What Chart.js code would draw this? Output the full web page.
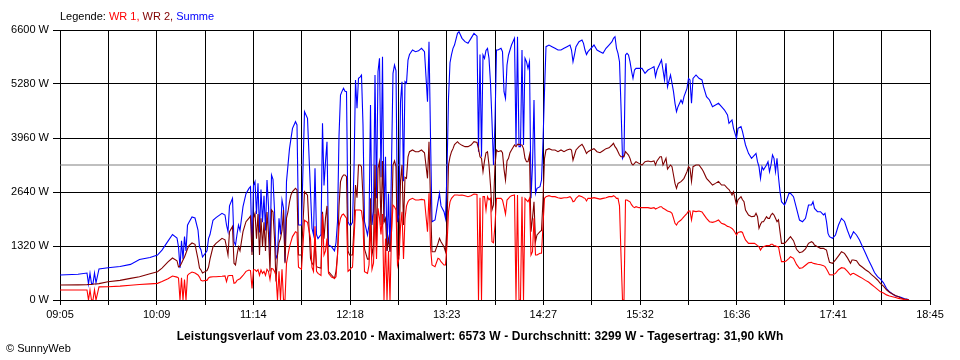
<!DOCTYPE html>
<html><head><meta charset="utf-8">
<script src="https://cdn.jsdelivr.net/npm/chart.js@4.4.0/dist/chart.umd.min.js"></script>
<style>
html,body{margin:0;padding:0;background:#fff;}
#wrap{position:relative;width:960px;height:360px;font-family:"Liberation Sans",Arial,sans-serif;font-size:11px;color:#000;}
canvas{position:absolute;left:0;top:0;}
#legend{position:absolute;left:60px;top:10px;white-space:nowrap;}
#title{position:absolute;left:0;width:960px;top:329px;text-align:center;font-weight:bold;font-size:12px;letter-spacing:0.1px;white-space:nowrap;}
#copy{position:absolute;left:6px;top:342px;white-space:nowrap;}
</style></head>
<body><div id="wrap"><canvas id="c" width="960" height="360"></canvas>
<div id="legend">Legende: <span style="color:#ff0000">WR 1,</span> <span style="color:#800000">WR 2,</span> <span style="color:#0000ff">Summe</span></div>
<div id="title">Leistungsverlauf vom 23.03.2010 - Maximalwert: 6573 W - Durchschnitt: 3299 W - Tagesertrag: 31,90 kWh</div>
<div id="copy">© SunnyWeb</div>
</div>
<script>
// minutes after 09:05
const minutes = [
0,12,18,19,20,21,22,23,24,26,32,40,47,53,60,65,68,72,75,78,79,80,81,82,83,84,85,86,88,90,92,93,94,95,97,
98,99,100,102,104,108,110,111,112,113,115,116,117,118,119,120,122,124,126,127,128,129,130,131,132,133,134,135,136,137,138,139,140,141,142,143,144,145,146,147,148,149,150,151,152,153,154,155,157,158,159,161,163,165,167,168,169,170,171,172,174,175,176,177,178,179,181,183,184,185,186,187,188,189,190,191,192,193,194,
195,196,197,198,199,200,201,202,203,205,206,207,208,209,210,211,212,213,214,215,216,217,218,219,220,221,222,223,224,225,226,227,228,229,230,231,232,233,235,237,239,241,243,245,246,247,248,250,252,253,254,256,257,258,259,260,261,262,263,265,266,268,270,272,274,276,278,279,280,281,282,283,284,285,286,287,288,289,290,291,
292,294,295,296,297,298,299,300,301,303,304,305,306,307,308,309,310,311,312,313,314,315,316,317,318,320,321,322,323,324,326,328,330,332,334,336,338,340,341,342,343,344,346,348,349,350,351,352,354,356,358,360,362,364,366,368,369,370,371,372,373,374,375,376,377,378,379,380,381,382,383,384,386,388,
390,392,394,396,397,398,400,401,402,403,404,405,407,408,409,410,411,412,414,415,416,418,419,420,421,422,424,426,428,429,431,433,435,437,439,441,443,445,446,448,449,451,452,454,455,456,457,459,461,463,464,465,466,467,468,469,471,472,473,474,475,476,477,478,479,480,481,
483,484,486,487,489,491,493,495,497,499,501,502,503,505,507,509,510,511,512,513,515,517,519,521,523,525,527,528,529,531,533,535,537,539,541,543,545,547,549,551,553,555,557,559,561,563,565,566
];
// WR 1 (W)
const wr1 = [
244,244,244,0,244,0,0,250,0,320,325,340,360,380,395,407,450,520,587,560,538,0,540,0,500,0,600,640,684,660,611,560,480,464,480,
480,540,560,570,570,580,590,450,590,600,600,410,420,480,500,520,600,700,733,720,285,740,740,700,740,600,735,650,700,600,750,700,500,770,760,700,600,0,700,0,750,0,0,900,1100,1300,1426,1550,1670,1650,800,750,1950,1900,1500,800,700,1800,700,650,600,2100,1100,1200,1500,650,560,530,570,1100,1800,2000,2078,2100,2050,2000,700,733,780,
800,1500,2200,2200,2200,2200,2180,1900,692,652,855,1833,750,900,2100,1000,2240,2000,1600,2100,0,1500,0,1200,0,1670,2322,2280,2200,855,1019,1800,2158,1000,1996,2300,2403,2450,2485,2444,2444,2460,2444,1670,2607,1300,855,815,1019,1000,937,855,855,1344,2158,2400,2485,2526,2567,2567,2560,2567,2550,2526,2550,2590,2580,0,2500,0,2526,2526,2200,2526,2450,2485,1426,1400,1833,2485,
2485,2485,2444,2281,2100,2444,2485,2526,2550,2567,0,2567,0,0,2526,0,2485,2444,2403,2485,1100,1181,2000,1100,1100,1141,1141,1833,2485,2526,2550,2526,2526,2500,2485,2501,2501,2526,2485,2400,2420,2485,2550,2526,2501,2485,2420,2485,2485,2501,2485,2467,2485,2501,2526,2526,2550,2526,2485,2485,2300,1100,0,0,2444,2444,2420,2400,2330,2281,2257,2281,2257,2257,
2257,2257,2240,2257,2224,2240,2280,2281,2240,2224,2200,2175,2150,2118,2000,1874,1833,1900,1955,1996,2040,2118,2175,2175,1955,2175,2160,2175,2150,2100,1996,1914,1898,1920,1955,1874,1849,1800,1793,1750,1711,1589,1650,1670,1650,1550,1467,1385,1385,1385,1361,1330,1304,1222,1280,1304,1330,1328,1328,1361,1361,1330,1328,1304,1304,1100,937,
937,950,1019,1059,1019,870,774,790,850,910,920,896,890,872,860,840,815,760,692,620,611,650,740,790,774,700,611,640,652,611,570,529,480,440,380,320,261,200,170,125,100,81,60,40,25,10,0,0
];
// WR 2 (W)
const wr2 = [
367,370,375,380,380,380,385,390,390,400,448,480,529,570,640,692,780,930,1027,960,807,830,900,978,1050,1150,1250,1330,1393,1360,1000,780,733,660,700,
720,800,1000,1300,1385,1507,1470,1300,1100,1670,1800,900,855,1100,1300,1200,1670,1914,2000,2050,1100,2000,2118,1500,2100,1100,2000,1300,1900,1200,2150,1600,700,2200,2150,1500,450,1100,1400,1500,1700,2200,900,2000,2158,2400,2567,2650,2729,2689,1100,1100,2650,2560,1019,900,855,1400,815,800,774,2158,1500,2000,2300,692,611,529,700,1100,2300,2892,3000,3056,3056,3015,1200,1100,1100,
1100,1800,2811,2500,3300,3300,3259,2500,1250,1000,1000,2485,1100,1300,3300,1300,3218,3381,1833,3400,1900,1996,1200,1500,1181,1670,3300,3400,3259,1019,1100,2900,3300,1833,3000,2974,3500,3625,3667,3625,3625,3667,3600,2974,3870,2400,1181,1181,1385,1507,1426,1300,1181,1833,3300,3500,3625,3700,3800,3870,3829,3780,3748,3748,3789,3870,3850,3700,3500,3463,3137,3400,3600,3625,3300,2800,2200,2322,3300,3667,
3625,3650,3600,3200,2933,3400,3463,3600,3667,3789,3748,3805,3805,3789,3789,3700,3463,3381,3381,3544,1670,2000,2400,1426,1589,1670,1700,2444,3463,3667,3700,3667,3667,3625,3667,3625,3667,3690,3667,3420,3544,3667,3748,3805,3748,3667,3581,3625,3667,3700,3625,3600,3650,3700,3720,3789,3829,3748,3700,3625,3544,3503,3503,3503,3625,3585,3544,3463,3340,3300,3340,3381,3340,3300,
3381,3397,3381,3400,3300,3400,3503,3503,3300,3381,3463,3200,3300,3259,3056,2850,2729,2850,2892,2933,2974,3137,3259,3220,2900,3259,3300,3300,3200,3137,2974,2892,2811,2851,2900,2811,2811,2729,2700,2567,2648,2322,2450,2526,2450,2403,2200,2078,2037,2050,2118,2037,1752,1850,1914,1914,2037,1996,1996,2078,2118,2078,1996,1914,1960,1670,1385,
1385,1420,1507,1548,1450,1240,1157,1181,1250,1385,1426,1400,1344,1304,1263,1263,1240,1222,1059,920,896,980,1080,1181,1141,1030,896,978,978,960,855,800,740,692,620,560,489,400,340,250,190,147,110,80,45,25,10,0
];
// Summe (W)
const summe = [
611,630,660,390,650,400,400,660,420,760,790,820,870,990,1040,1100,1220,1440,1600,1516,1300,780,1450,1000,1550,1200,1830,1900,2029,2004,1711,1300,1222,1051,1149,
1200,1500,1600,1950,2013,2118,2078,1833,1670,2300,2485,1426,1344,1600,1833,1700,2281,2600,2729,2770,1181,2800,2892,2100,2851,1650,2700,1900,2550,1700,2933,2300,1100,3056,2950,2200,1019,1100,2000,1600,2444,2250,937,2900,3300,3700,3952,4196,4359,4278,1833,1833,4603,4441,2648,1752,1600,3218,1600,1500,1600,4319,2800,3381,3870,1344,1304,1200,1400,1914,4000,5011,5100,5174,5100,5093,1914,1833,1833,
1900,3200,5378,4685,5418,5450,5500,4278,1914,1589,1833,4767,1833,2158,5500,2485,5581,5907,3000,5948,1900,3500,1200,2600,1181,3300,5540,5744,5600,1900,2100,4848,5337,2900,5337,5300,5867,6000,6111,6070,6090,6152,6070,4848,6315,4000,1914,1955,2400,2607,2300,2158,1996,3137,4929,5800,6000,6152,6233,6518,6559,6396,6315,6274,6396,6518,6450,3625,6000,3500,5989,5907,6100,6152,5907,5300,4359,3300,4359,6111,
6111,6152,6070,5093,4929,5744,5989,6111,6233,6396,3789,6437,3748,3748,6111,3789,5907,5825,5662,5825,2485,3300,4889,2607,2729,2770,2933,3870,5093,6192,6233,6192,6152,6111,6111,6152,6192,6233,6111,5825,6000,6192,6315,6356,6274,6111,6000,6070,6152,6233,6111,6070,6030,6152,6233,6315,6396,6437,6152,6030,5825,4726,3463,3544,5989,6030,5989,5825,5600,5418,5622,5662,5662,5662,
5540,5622,5662,5703,5459,5622,5785,5867,5622,5378,5785,5215,5500,5300,5093,4808,4603,4726,4889,4808,4971,5174,5418,5378,4808,5418,5500,5418,5380,5215,4971,4889,4726,4767,4808,4726,4644,4522,4319,4400,4196,3952,4196,4237,4115,3952,3789,3585,3463,3544,3585,3381,3259,2974,3259,3180,3300,3381,3137,3300,3544,3463,3137,3463,3000,2648,2403,
2322,2403,2607,2607,2526,2240,1955,1914,1996,2322,2322,2403,2240,2159,2159,2078,2118,1914,1629,1548,1507,1589,1833,1996,1920,1700,1507,1589,1670,1589,1467,1304,1141,978,830,670,570,510,420,280,200,147,98,85,60,30,16,0
];
const average = 3299;
const tickLabels = ["09:05","10:09","11:14","12:18","13:23","14:27","15:32","16:36","17:41","18:45"];
const spanMinutes = 580;

Chart.defaults.font.family = '"Liberation Sans", Arial, sans-serif';
Chart.defaults.font.size = 11;
Chart.defaults.color = '#000';

const toXY = arr => arr.map((v, i) => ({x: minutes[i], y: v}));
new Chart(document.getElementById('c'), {
  type: 'line',
  data: {datasets: [
    {label: 'WR 1', data: toXY(wr1), borderColor: '#ff0000', order: 0},
    {label: 'WR 2', data: toXY(wr2), borderColor: '#800000', order: 1},
    {label: 'Summe', data: toXY(summe), borderColor: '#0000ff', order: 2},
    {label: 'Durchschnitt', data: [{x: 0, y: average}, {x: spanMinutes, y: average}], borderColor: '#808080', order: 3}
  ]},
  options: {
    responsive: false, animation: false, devicePixelRatio: 1,
    elements: {line: {borderWidth: 1.1, tension: 0, fill: false}, point: {radius: 0}},
    layout: {padding: {top: 30, right: 30, left: 0, bottom: 0}},
    plugins: {legend: {display: false}, tooltip: {enabled: false}},
    scales: {
      x: {
        type: 'linear', min: 0, max: spanMinutes,
        afterBuildTicks: s => { const t = []; for (let i = 0; i <= 18; i++) t.push({value: i * spanMinutes / 18}); s.ticks = t; },
        afterFit: s => { s.height = 60; },
        grid: {color: '#000', lineWidth: 1, tickLength: 5},
        border: {color: '#000'},
        ticks: {autoSkip: false, maxRotation: 0, padding: 3, color: '#000',
          callback: (v, i) => (i % 2 === 0 ? tickLabels[i / 2] : '')}
      },
      y: {
        min: 0, max: 6600,
        afterFit: s => { s.width = 60; },
        grid: {color: '#000', lineWidth: 1, tickLength: 7},
        border: {color: '#000'},
        ticks: {stepSize: 1320, padding: 4, color: '#000', callback: v => v + ' W'}
      }
    }
  }
});
</script>
</body></html>
